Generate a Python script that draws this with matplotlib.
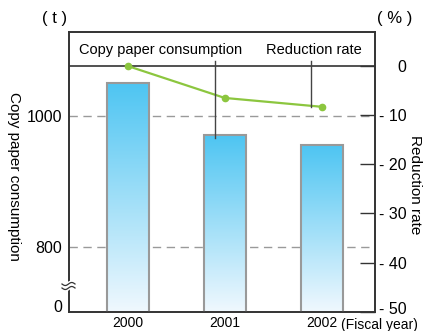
import numpy as np
from matplotlib import pyplot as plt
from matplotlib.colors import LinearSegmentedColormap
from matplotlib.transforms import ScaledTranslation

# data
years = ["2000", "2001", "2002"]
paper_use = [1050, 971, 956]          # t
reduction = [0, -6.5, -8.3]           # %
left_ticks = [1000, 800]
right_ticks = [0, -10, -20, -30, -40, -50]
right_labels = ["0", "- 10", "- 20", "- 30", "- 40", "- 50"]

plt.rcParams["font.family"] = ["Liberation Sans", "DejaVu Sans"]
plt.rcParams["font.size"] = 11

fig = plt.figure(figsize=(4.24, 3.31), dpi=100)
ax = fig.add_axes([69 / 424, 19.3 / 331, 305.7 / 424, 280 / 331])
ax2 = ax.twinx()

x = np.arange(len(years))
xlim = (-0.605, 2.546)
ylim = (701.9, 1128.4)
ax2.set_ylim(-50, 6.98)

# dashed guides
for v in left_ticks:
    ax.axhline(v, color="#9a9a9a", lw=1, ls=(0, (6, 4)), zorder=0)

# bars with vertical gradient
cmap = LinearSegmentedColormap.from_list("blu", ["#f0f8fe", "#4ec5f2"])
grad = np.linspace(0, 1, 256).reshape(-1, 1)
bars = ax.bar(x, paper_use, width=0.433, bottom=0, facecolor="none",
              edgecolor="#999999", lw=1.5, zorder=3)
for b in bars:
    im = ax.imshow(grad, cmap=cmap, origin="lower", aspect="auto",
                   extent=(b.get_x(), b.get_x() + b.get_width(), ylim[0], b.get_height()),
                   zorder=2)
    im.set_clip_path(b)
ax.set_xlim(*xlim)
ax.set_ylim(*ylim)

# reduction rate line
ax2.plot(x, reduction, color="#8cc63f", lw=1.6, marker="o", ms=4.5, zorder=5)

# header line and leaders
ax2.axhline(0, color="#333333", lw=1.2, zorder=4)
ax2.plot([1 - 0.1, 1 - 0.1], [1.0, -14.6], color="#444444", lw=1, zorder=6)
ax2.plot([2 - 0.11, 2 - 0.11], [1.0, reduction[2]], color="#444444", lw=1, zorder=6)
ax2.text(0.335, 3.3, "Copy paper consumption", ha="center", va="center", fontsize=10.5)
ax2.text(1.92, 3.3, "Reduction rate", ha="center", va="center", fontsize=10.5)

# axes styling
for a in (ax, ax2):
    for s in a.spines.values():
        s.set_color("#333333")
        s.set_linewidth(1.2)

ax.set_yticks([ylim[0] + 9] + left_ticks)
ax.set_yticklabels(["0"] + [str(v) for v in left_ticks])
ax.tick_params(axis="y", length=0, pad=5, labelsize=11.5)
ax.set_xticks(x)
ax.set_xticklabels(years)
ax.tick_params(axis="x", length=0, pad=3, labelsize=10)

ax2.set_yticks(right_ticks)
ax2.set_yticklabels(right_labels, ha="right")
ax2.tick_params(axis="y", direction="in", length=11, width=1, color="#333333",
                pad=23, labelsize=11.5)
last = ax2.get_yticklabels()[-1]
last.set_transform(last.get_transform() + ScaledTranslation(0, 4 / 100, fig.dpi_scale_trans))

fig.text(341 / 424, 1 - 318 / 331, "(Fiscal year)", ha="left", va="top", fontsize=10)
fig.text(55 / 424, 1 - 19 / 331, "( t )", ha="center", va="center", fontsize=12)
fig.text(395 / 424, 1 - 19 / 331, "( % )", ha="center", va="center", fontsize=12)
fig.text(14 / 424, 1 - 176 / 331, "Copy paper consumption", rotation=270,
         ha="center", va="center")
fig.text(415 / 424, 1 - 185 / 331, "Reduction rate", rotation=270,
         ha="center", va="center")

# axis break mark on the left axis
t = np.linspace(0, 1, 30)
for dy in (0, 4):
    xs = 62 + 13 * t
    ys = 331 - (284 + dy) - 1.5 * np.sin(2 * np.pi * t)
    fig.add_artist(plt.Line2D(xs / 424, ys / 331, color="white", lw=3, zorder=9))
    fig.add_artist(plt.Line2D(xs / 424, ys / 331, color="#333333", lw=0.9, zorder=10))

fig.savefig("out.png", dpi=100)
